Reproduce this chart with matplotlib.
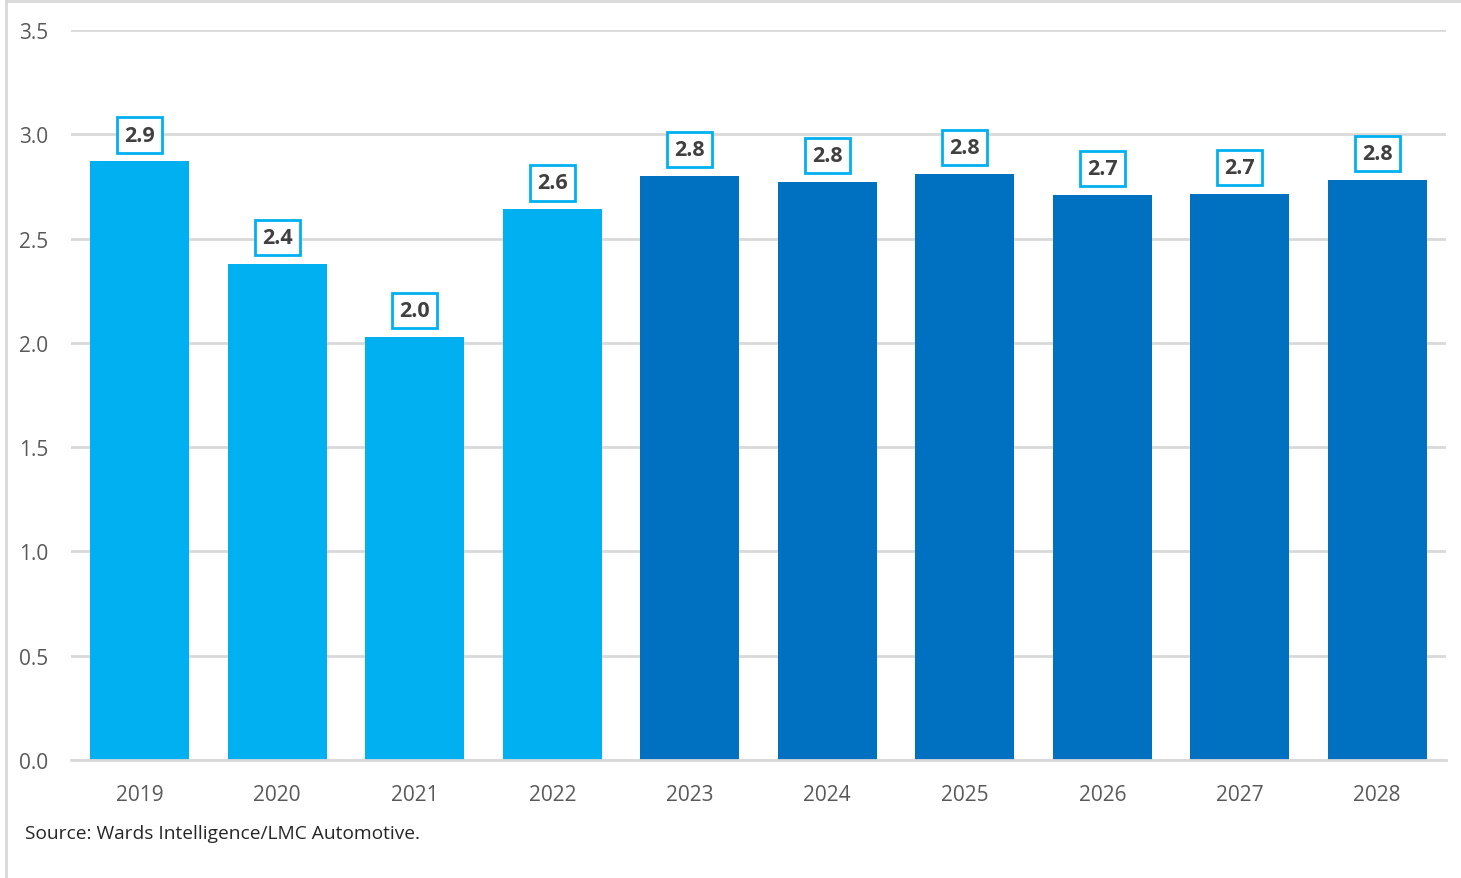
import matplotlib
matplotlib.use("Agg")
import matplotlib.pyplot as plt
from matplotlib.lines import Line2D

# Data
years = ["2019", "2020", "2021", "2022", "2023", "2024", "2025", "2026", "2027", "2028"]
values = [2.87, 2.38, 2.03, 2.64, 2.80, 2.77, 2.81, 2.71, 2.715, 2.78]
actual_color = "#00B0F0"
forecast_color = "#0070C0"
n_actual = 4
yticks = [0.0, 0.5, 1.0, 1.5, 2.0, 2.5, 3.0, 3.5]
source_text = "Source: Wards Intelligence/LMC Automotive."

plt.rcParams["font.family"] = ["Open Sans", "DejaVu Sans"]

W, H = 1461, 879
fig = plt.figure(figsize=(W / 100, H / 100), dpi=100)
ax = fig.add_axes([71 / W, (H - 761) / H, (1446 - 71) / W, (761 - 31) / H])

colors = [actual_color if i < n_actual else forecast_color for i in range(len(years))]
x = list(range(len(years)))
ax.bar(x, values, width=0.72, color=colors, zorder=3)

for xi, v in zip(x, values):
    ax.annotate(f"{v:.1f}", xy=(xi, v), xytext=(0, 19), textcoords="offset points",
                ha="center", va="center", fontsize=15.5, fontweight="bold",
                color="#404040", zorder=5,
                bbox=dict(boxstyle="square,pad=0.33", fc="white", ec=actual_color, lw=2))

ax.set_xlim(-0.5, len(years) - 0.5)
ax.set_ylim(0, 3.5)
ax.set_yticks(yticks)
ax.set_yticklabels([f"{t:.1f}" for t in yticks])
ax.set_xticks(x)
ax.set_xticklabels(years)
ax.tick_params(axis="both", length=0, labelsize=15, colors="#595959")
ax.tick_params(axis="y", pad=16.5)
ax.tick_params(axis="x", pad=17)
ax.grid(axis="y", color="#D9D9D9", lw=2, zorder=0)
for s in ["top", "right", "left"]:
    ax.spines[s].set_visible(False)
ax.spines["bottom"].set_color("#D9D9D9")
ax.spines["bottom"].set_linewidth(2)
ax.spines["bottom"].set_zorder(4)

# Outer frame lines
fig.add_artist(Line2D([6 / W, 6 / W], [0, 1 - 2 / H], transform=fig.transFigure, color="#D9D9D9", lw=2))
fig.add_artist(Line2D([6 / W, 1], [1 - 2 / H, 1 - 2 / H], transform=fig.transFigure, color="#D9D9D9", lw=2))

fig.text(25 / W, 1 - 834 / H, source_text, ha="left", va="center", fontsize=13.8, color="#262626")

fig.savefig("out.png", dpi=100, facecolor="white")
